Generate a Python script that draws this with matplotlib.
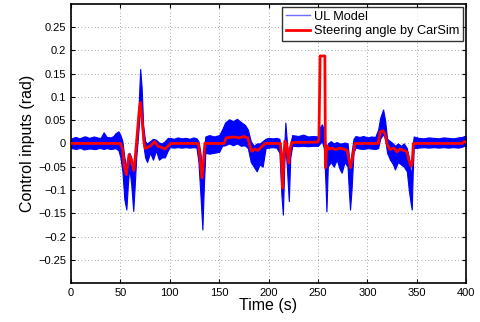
import matplotlib
matplotlib.use("Agg")
import matplotlib.pyplot as plt
import numpy as np

plt.rcParams['font.family'] = ['Liberation Sans', 'DejaVu Sans']

# ---- UL Model (blue) noise band: time, upper and lower envelope ----
blue_t = [0, 3, 5, 8, 10, 13, 15, 18, 20, 23, 25, 28, 30, 33, 36, 40, 43, 45, 48, 50, 52, 54, 56,
          57.5, 59, 61, 63, 64.5, 66, 68, 70, 71.5, 73, 75, 77, 80, 83, 86, 89, 92, 95, 98,
          100, 104, 108, 112, 116, 120, 124, 127, 129, 131, 133, 134.5, 136, 140, 145, 150,
          153, 156, 160, 164, 168, 172, 176, 179, 182, 185, 188, 191, 194, 197, 200, 204,
          208, 211, 213, 214.5, 216, 217, 218.5, 220.5, 222, 224, 230, 235, 240, 245, 250,
          252, 254, 256, 257.5, 258.6, 260, 263, 266, 269, 272, 274, 277, 280, 281.5, 282.5,
          284, 286, 288, 292, 296, 300, 304, 308, 311, 313, 316, 318, 320, 323, 326, 328,
          331, 334, 337, 340, 342, 344, 345, 346, 347, 352, 357, 362, 367, 372, 377, 382,
          387, 392, 396, 398, 400]
blue_hi = [0.010, 0.013, 0.014, 0.011, 0.012, 0.015, 0.015, 0.012, 0.013, 0.015, 0.014, 0.012,
           0.012, 0.024, 0.014, 0.013, 0.016, 0.022, 0.026, 0.018, 0.005, -0.030, -0.050,
           -0.040, -0.020, -0.030, -0.060, -0.030, 0.000, 0.060, 0.160, 0.120, 0.040, 0.005,
           0.000, 0.005, 0.010, 0.008, 0.002, 0.000, 0.005, 0.012,
           0.012, 0.010, 0.013, 0.011, 0.012, 0.010, 0.013, 0.011, 0.005, -0.020, -0.060,
           -0.010, 0.015, 0.018, 0.015, 0.018,
           0.030, 0.045, 0.052, 0.048, 0.053, 0.046, 0.040, 0.030, 0.005, -0.005, 0.000,
           0.000, 0.005, 0.010, 0.012, 0.011,
           0.012, 0.010, -0.020, -0.050, 0.000, 0.045, 0.005, -0.040, 0.000, 0.018, 0.016,
           0.019, 0.015, 0.016, 0.015,
           0.035, 0.041, 0.030, 0.000, -0.040, 0.000, 0.005, 0.000, 0.003, 0.000, 0.000,
           0.002, 0.000, -0.030, -0.060,
           -0.020, 0.010, 0.016, 0.014, 0.016, 0.013, 0.015, 0.014, 0.030, 0.055, 0.073,
           0.050, 0.010, 0.005, 0.000, -0.005,
           0.000, -0.005, 0.000, -0.010, -0.030, -0.060, -0.070, 0.000, 0.015, 0.012, 0.011,
           0.013, 0.012, 0.011, 0.013, 0.012,
           0.011, 0.013, 0.014, 0.016, 0.015]
blue_lo = [-0.010, -0.011, -0.012, -0.010, -0.010, -0.013, -0.012, -0.011, -0.011, -0.012,
           -0.012, -0.010, -0.010, -0.012, -0.010, -0.012, -0.011, -0.010, -0.015, -0.030,
           -0.060, -0.120, -0.142,
           -0.090, -0.050, -0.090, -0.145, -0.090, -0.030, 0.020, 0.080, 0.040, 0.000,
           -0.030, -0.040, -0.020, -0.035, -0.015, -0.035, -0.030, -0.030, -0.015,
           -0.008, -0.009, -0.008, -0.009, -0.008, -0.009, -0.008, -0.009, -0.040, -0.110,
           -0.185, -0.090, -0.020, -0.022, -0.020, -0.018,
           -0.005, -0.004, 0.000, -0.004, 0.000, -0.005, -0.004, -0.010, -0.040, -0.050,
           -0.060, -0.045, -0.050, -0.010, -0.009, -0.008,
           -0.009, -0.020, -0.110, -0.153, -0.040, -0.005, -0.050, -0.124, -0.030, -0.005,
           -0.006, -0.005, -0.006, -0.005, -0.005,
           0.000, 0.005, -0.010, -0.080, -0.146, -0.050, -0.040, -0.050, -0.035, -0.055,
           -0.063, -0.040, -0.050, -0.110, -0.142,
           -0.100, -0.020, -0.009, -0.011, -0.012, -0.010, -0.011, -0.012, -0.010, 0.010,
           0.020, 0.010, -0.020, -0.035, -0.045, -0.056,
           -0.040, -0.045, -0.050, -0.060, -0.100, -0.130, -0.142, -0.060, -0.010, -0.009,
           -0.008, -0.009, -0.008, -0.009, -0.008, -0.009,
           -0.008, -0.009, -0.007, -0.005, -0.006]

# ---- Steering angle by CarSim (red) ----
red_t = [0, 50, 52, 54, 56, 58.7, 61, 63.5, 65, 67, 69, 70.2, 72, 74, 75.3, 78, 81, 84.7, 88,
         91, 94.8, 98, 101, 129, 130.5, 132.5, 134, 135.5, 155, 157, 165, 170, 175, 179, 181,
         183, 186, 189, 193, 196.5, 212, 213, 214.3, 215.5, 216.5, 218, 220.5, 222, 223.5,
         250, 251, 252.2, 257, 257.6, 259, 261, 264, 268, 272, 276, 279.5, 281.5, 283, 285,
         287.5, 311, 313, 316, 318, 320, 323, 327, 330, 333, 337, 340, 342, 344.3, 345.5,
         346.6, 396, 398, 400]
red_v = [0.0, 0.0, -0.010, -0.050, -0.067, -0.024, -0.035, -0.058, -0.030, 0.020, 0.070,
         0.088, 0.050, 0.000, -0.011, -0.008, -0.004, 0.004, -0.006, -0.008, -0.012, -0.006,
         0.0, 0.0, -0.030, -0.074, -0.040, 0.0, 0.0, 0.012, 0.014, 0.012, 0.015, 0.012,
         -0.005, -0.017, -0.012, -0.015, -0.007, 0.0, 0.0, -0.030, -0.096, -0.030, 0.005,
         0.000, -0.042, -0.010, 0.002, 0.003, 0.010, 0.188, 0.188, -0.052, -0.005, -0.012,
         -0.010, -0.013, -0.010, -0.012, -0.015, -0.035, -0.052, -0.030, 0.0, 0.0, 0.025,
         0.027, 0.020, -0.002, -0.013, -0.010, -0.018, -0.012, -0.015, -0.018, -0.035,
         -0.049, -0.040, 0.0, 0.0, 0.004, 0.003]

x_ticks = [0, 50, 100, 150, 200, 250, 300, 350, 400]
y_ticks = [-0.25, -0.2, -0.15, -0.1, -0.05, 0, 0.05, 0.1, 0.15, 0.2, 0.25]
y_ticklabels = ['\u22120.25', '\u22120.2', '\u22120.15', '\u22120.1', '\u22120.05', '0',
                '0.05', '0.1', '0.15', '0.2', '0.25']

fig = plt.figure(figsize=(4.8, 3.22), dpi=100)
ax = fig.add_axes([0.148, 0.121, 0.823, 0.867])

ax.fill_between(blue_t, blue_lo, blue_hi, color='#0000ff', linewidth=0.8,
                edgecolor='#0000ff', zorder=2)
ax.plot([], [], color='#6f6fff', linewidth=1.0, label='UL Model')
ax.plot(red_t, red_v, color='#ff0000', linewidth=2.0, label='Steering angle by CarSim',
        zorder=3)

ax.set_xlim(0, 400)
ax.set_ylim(-0.3, 0.3)
ax.set_xticks(x_ticks)
ax.set_yticks(y_ticks)
ax.set_yticklabels(y_ticklabels)
ax.tick_params(direction='in', top=True, right=True, labelsize=8, length=3, width=0.8)
ax.grid(True, linestyle=(0, (1, 3)), color='#888888', linewidth=0.6)
for s in ax.spines.values():
    s.set_linewidth(1.2)
ax.set_xlabel('Time (s)', fontsize=11.5, labelpad=0)
ax.set_ylabel('Control inputs (rad)', fontsize=11.5, labelpad=2)

leg = ax.legend(loc='upper right', fontsize=9.2, frameon=True, fancybox=False,
                edgecolor='black', borderpad=0.3, labelspacing=0.2, handlelength=1.9,
                handletextpad=0.25, borderaxespad=0.25)
leg.get_frame().set_linewidth(1.0)

fig.savefig('out.png', dpi=100)
